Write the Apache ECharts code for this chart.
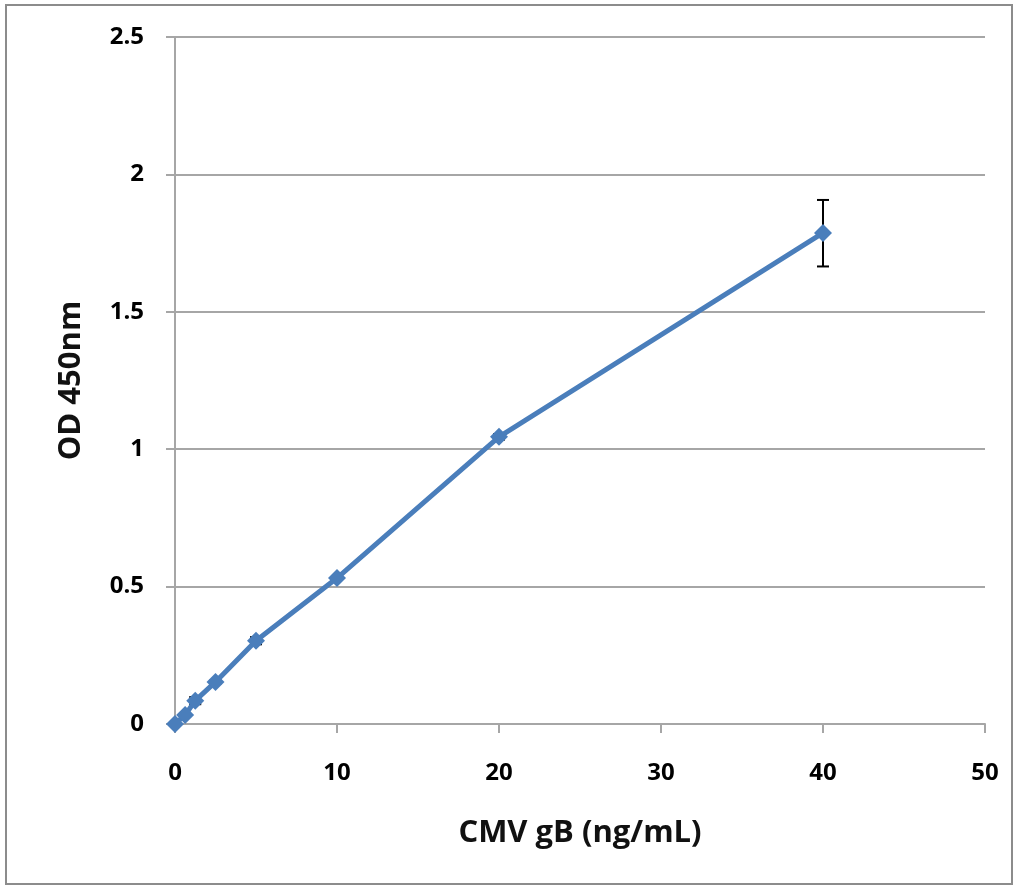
<!DOCTYPE html>
<html><head><meta charset="utf-8">
<script src="https://cdn.jsdelivr.net/npm/echarts@6/dist/echarts.min.js"></script>
<style>html,body{margin:0;padding:0;background:#fff}#c{width:1018px;height:888px}</style>
</head><body><div id="c"></div>
<script>
const concentrations = [0, 0.625, 1.25, 2.5, 5, 10, 20, 40];
const odValues = [0, 0.033, 0.085, 0.153, 0.303, 0.531, 1.045, 1.787];
const errLow = [0, 0.028, 0.072, 0.147, 0.29, 0.524, 1.035, 1.665];
const errHigh = [0, 0.038, 0.098, 0.159, 0.316, 0.538, 1.055, 1.907];
const xTitle = 'CMV gB (ng/mL)';
const yTitle = 'OD 450nm';

const lineData = concentrations.map((x, i) => [x, odValues[i]]);
const errData = concentrations.map((x, i) => [x, errLow[i], errHigh[i]]);
const font = '"Open Sans", "Noto Sans", sans-serif';

const chart = echarts.init(document.getElementById('c'));
chart.setOption({
  animation: false,
  backgroundColor: '#fff',
  graphic: [{type:'rect', shape:{x:6,y:5,width:1006,height:879}, style:{fill:'none', stroke:'#8c8c8c', lineWidth:2}}],
  grid: {left: 175, right: 33, top: 37, bottom: 164},
  xAxis: {
    type: 'value', min: 0, max: 50, interval: 10,
    name: xTitle, nameLocation: 'middle', nameGap: 94,
    nameTextStyle: {fontFamily: font, fontWeight: 'bold', fontSize: 31, color: '#111'},
    axisLine: {show: true, onZero: false, lineStyle: {color: '#a6a6a6', width: 2}},
    axisTick: {show: true, length: 9, lineStyle: {color: '#a6a6a6', width: 2}},
    axisLabel: {margin: 37, fontFamily: font, fontWeight: 'bold', fontSize: 24, color: '#000'},
    splitLine: {show: false}
  },
  yAxis: {
    type: 'value', min: 0, max: 2.5, interval: 0.5,
    name: yTitle, nameLocation: 'middle', nameGap: 88, nameRotate: 90,
    nameTextStyle: {fontFamily: font, fontWeight: 'bold', fontSize: 31, color: '#111'},
    axisLine: {show: true, lineStyle: {color: '#a6a6a6', width: 2}},
    axisTick: {show: true, length: 9, lineStyle: {color: '#a6a6a6', width: 2}},
    axisLabel: {margin: 31, fontFamily: font, fontWeight: 'bold', fontSize: 24, color: '#000'},
    splitLine: {show: true, lineStyle: {color: '#a6a6a6', width: 2}}
  },
  series: [
    {
      type: 'custom',
      data: errData,
      z: 1,
      renderItem: function (params, api) {
        const x = api.value(0);
        const lo = api.coord([x, api.value(1)]);
        const hi = api.coord([x, api.value(2)]);
        const w = 6;
        const st = {stroke: '#000', lineWidth: 2, fill: 'none'};
        return {type: 'group', children: [
          {type: 'line', shape: {x1: lo[0], y1: lo[1], x2: hi[0], y2: hi[1]}, style: st},
          {type: 'line', shape: {x1: lo[0]-w, y1: lo[1], x2: lo[0]+w, y2: lo[1]}, style: st},
          {type: 'line', shape: {x1: hi[0]-w, y1: hi[1], x2: hi[0]+w, y2: hi[1]}, style: st}
        ]};
      }
    },
    {
      type: 'line',
      data: lineData,
      z: 2,
      symbol: 'diamond',
      symbolSize: 18,
      lineStyle: {color: '#4a7ebb', width: 5},
      itemStyle: {color: '#4a7ebb'}
    }
  ]
});
</script></body></html>
